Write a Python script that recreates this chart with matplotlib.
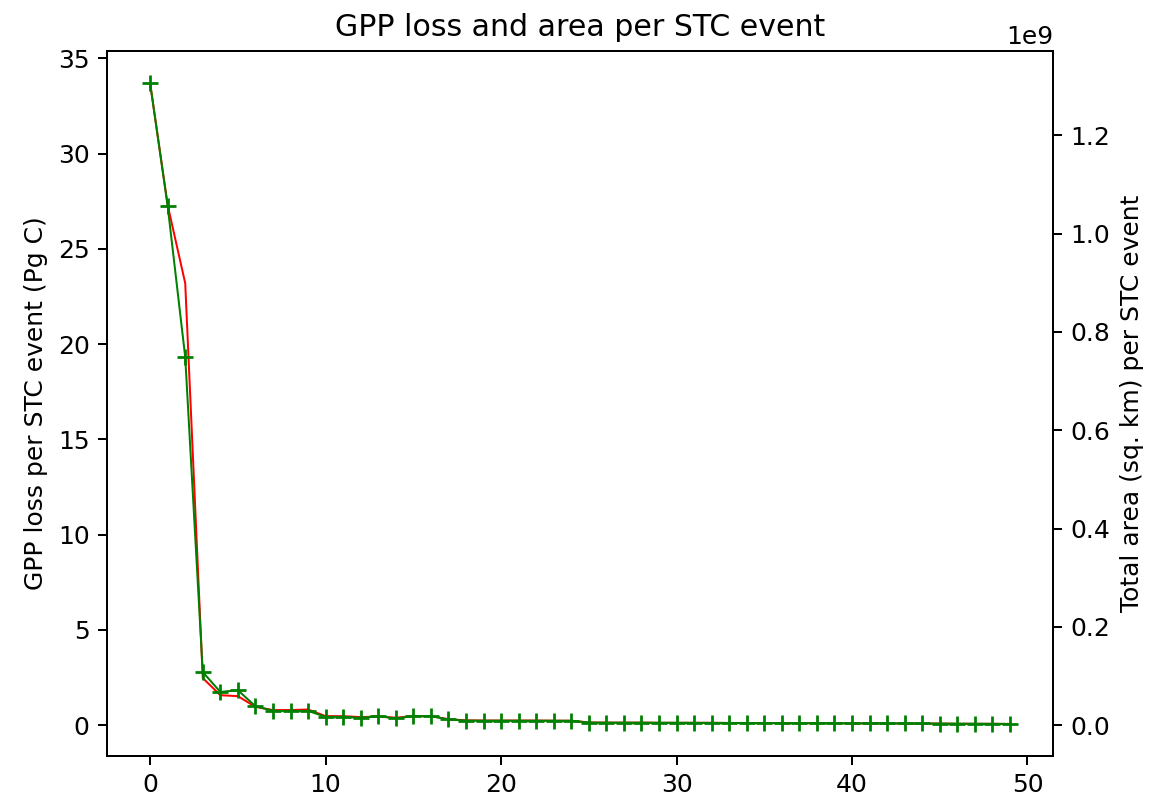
import matplotlib
matplotlib.use("Agg")
import matplotlib.pyplot as plt
import numpy as np

# GPP loss (Pg C) for each STC event, ranked
gpp_loss = [33.7, 27.3, 23.2, 2.47, 1.57, 1.52, 0.96, 0.79, 0.79, 0.82,
            0.47, 0.47, 0.42, 0.45, 0.39, 0.47, 0.47, 0.31, 0.25, 0.24,
            0.24, 0.24, 0.24, 0.23, 0.23, 0.14, 0.13, 0.13, 0.13, 0.12,
            0.12, 0.12, 0.12, 0.11, 0.11, 0.11, 0.10, 0.10, 0.10, 0.10,
            0.09, 0.09, 0.09, 0.08, 0.08, 0.08, 0.07, 0.07, 0.07, 0.06]

# total affected area (sq. km) for the same events
area = [1.306e9, 1.056e9, 0.749e9, 0.108e9, 0.0676e9, 0.0711e9, 0.0386e9,
        0.029e9, 0.029e9, 0.029e9, 0.0169e9, 0.0169e9, 0.0148e9, 0.0183e9,
        0.0136e9, 0.0183e9, 0.0183e9, 0.0116e9, 0.0092e9, 0.0091e9,
        0.0091e9, 0.0090e9, 0.0090e9, 0.0090e9, 0.0089e9, 0.0052e9,
        0.0051e9, 0.0050e9, 0.0050e9, 0.0049e9, 0.0048e9, 0.0047e9,
        0.0046e9, 0.0045e9, 0.0044e9, 0.0043e9, 0.0042e9, 0.0041e9,
        0.0040e9, 0.0039e9, 0.0038e9, 0.0037e9, 0.0036e9, 0.0035e9,
        0.0034e9, 0.0032e9, 0.0030e9, 0.0028e9, 0.0026e9, 0.0024e9]

events = np.arange(len(gpp_loss))

fig, ax = plt.subplots(figsize=(6.4, 800 / 180), dpi=180)
fig.subplots_adjust(left=0.093, right=0.914, bottom=0.055, top=0.936)

ax.plot(events, gpp_loss, color='red', linewidth=0.8)
ax.set_ylabel('GPP loss per STC event (Pg C)')
ax.set_title('GPP loss and area per STC event')

ax2 = ax.twinx()
ax2.plot(events, area, color='green', linewidth=0.8, marker='+',
         markersize=6.5, markeredgewidth=1.1)
ax2.set_ylabel('Total area (sq. km) per STC event')

fig.savefig('out.png', dpi=180)
